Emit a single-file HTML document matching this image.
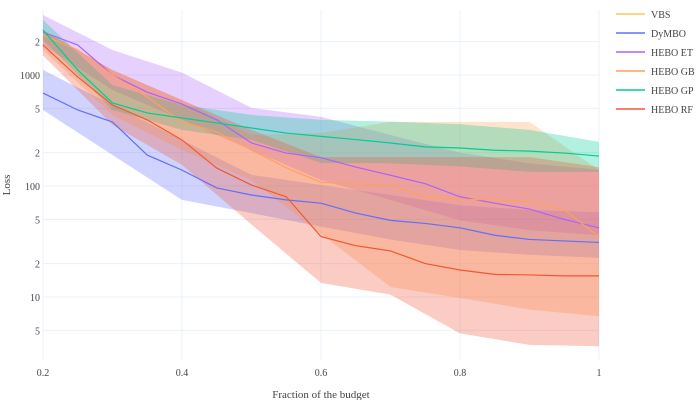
<!DOCTYPE html>
<html><head><meta charset="utf-8"><style>
body{margin:0;background:#fff;font-family:"Liberation Serif",serif;}
svg text{font-family:"Liberation Serif",serif;fill:#444;}
</style></head><body>
<svg id="chart" width="700" height="400" xmlns="http://www.w3.org/2000/svg">
<g id="grid"></g>
<g id="bands"></g>
<g id="lines"></g>
<g id="axes"></g>
<g id="legend"></g>
<text x="321" y="398" font-size="11" text-anchor="middle">Fraction of the budget</text>
<text transform="translate(10,185) rotate(-90)" font-size="11" text-anchor="middle">Loss</text>
</svg>
<script>
const xs = [0.2,0.25,0.3,0.35,0.4,0.45,0.5,0.55,0.6,0.65,0.7,0.75,0.8,0.85,0.9,0.95,1.0];
const bandXs = [0.2,0.3,0.4,0.5,0.6,0.7,0.8,0.9,1.0];
const seriesNames = ["VBS","DyMBO","HEBO ET","HEBO GB","HEBO GP","HEBO RF"];
const vbs    = [1860,960,537,394,260,145,102,80,35,29,26,20,17.5,16,15.8,15.5,15.5];
const dymbo  = [687,484,377,190,139,96,83,75,70,57,49,46,42,36,33,32,31];
const heboEt = [2440,1860,1000,700,547,394,244,198,180,148,125,105,80,70,62,50,42];
const heboGb = [2290,1680,1000,634,378,306,211,146,108,104,102,80,76,75,72,61,35];
const heboGp = [2540,1110,560,455,410,370,333,300,280,262,244,225,220,210,206,198,186];
const heboRf = [1860,960,537,394,260,145,102,80,35,29,26,20,17.5,16,15.8,15.5,15.5];
const dymboUp = [1110,537,260,126,102,83,67,61,58];
const dymboLo = [484,190,75,57,43,33,26.5,24,22.5];
const etUp = [3470,1680,1050,505,420,288,200,160,140];
const etLo = [1860,733,394,211,113,75,49,40,36];
const gbUp = [2540,1110,595,288,300,378,378,378,139];
const gbLo = [1680,437,211,113,37,12.3,9.8,7.7,6.7];
const gpUp = [3130,810,537,437,394,380,360,320,250];
const gpLo = [2070,484,320,260,161,160,150,134,134];
const rfUp = [2540,1110,595,320,182,182,182,182,148];
const rfLo = [1500,355,155,45,13.4,10.5,4.7,3.7,3.6];
const yTickVals = [2000,1000,500,200,100,50,20,10,5];
const yTickLabels = ["2","1000","5","2","100","5","2","10","5"];
const xTickVals = [0.2,0.4,0.6,0.8,1.0];
const xTickLabels = ["0.2","0.4","0.6","0.8","1"];

const colors = ["#FECB52","#636EFA","#AB63FA","#FFA15A","#00CC96","#EF553B"];
const X0=43,X1=599,PT=10,PB=360;
const xs_ = v => X0 + (v-0.2)/0.8*(X1-X0);
const ys_ = v => 75 - (Math.log10(v)-3)*111;
const NS="http://www.w3.org/2000/svg";
function mk(tag,parent){const e=document.createElementNS(NS,tag);parent.appendChild(e);return e;}
const grid=document.getElementById('grid'),axes=document.getElementById('axes');
yTickVals.forEach((v,i)=>{
  const l=mk('line',grid);l.setAttribute('x1',X0);l.setAttribute('x2',X1);l.setAttribute('y1',ys_(v));l.setAttribute('y2',ys_(v));l.setAttribute('stroke','#ebf0f8');
  
  
  const t=mk('text',axes);t.setAttribute('x',X0-3);t.setAttribute('y',ys_(v)+4);t.setAttribute('text-anchor','end');t.setAttribute('font-size','10');t.textContent=yTickLabels[i];
  
  
});
xTickVals.forEach((v,i)=>{
  const l=mk('line',grid);l.setAttribute('x1',xs_(v));l.setAttribute('x2',xs_(v));l.setAttribute('y1',PT);l.setAttribute('y2',PB);l.setAttribute('stroke','#ebf0f8');
  
  
  const t=mk('text',axes);t.setAttribute('x',xs_(v));t.setAttribute('y',376);t.setAttribute('text-anchor','middle');t.setAttribute('font-size','10');t.textContent=xTickLabels[i];
  
  
});
function pts(xa,ya){return xa.map((x,i)=>[xs_(x),ys_(ya[i])]);}
const bandsG=document.getElementById('bands');
const bands=[[dymboUp,dymboLo,1],[etUp,etLo,2],[gbUp,gbLo,3],[gpUp,gpLo,4],[rfUp,rfLo,5]];
bands.forEach(b=>{
  const up=pts(bandXs,b[0]),lo=pts(bandXs,b[1]).reverse();
  const p=mk('polygon',bandsG);p.setAttribute('points',up.concat(lo).map(q=>q.join(',')).join(' '));
  p.setAttribute('fill',colors[b[2]]);p.setAttribute('fill-opacity','0.3');
  
  
});
const linesG=document.getElementById('lines');
[vbs,dymbo,heboEt,heboGb,heboGp,heboRf].forEach((s,i)=>{
  const p=mk('polyline',linesG);p.setAttribute('points',pts(xs,s).map(q=>q.join(',')).join(' '));
  p.setAttribute('fill','none');p.setAttribute('stroke',colors[i]);p.setAttribute('stroke-width','1.2');
  
  
});
const leg=document.getElementById('legend');
seriesNames.forEach((n,i)=>{
  const y=14+i*19;
  const g=mk('g',leg);
  
  
  const l=mk('line',g);l.setAttribute('x1',616);l.setAttribute('x2',645);l.setAttribute('y1',y);l.setAttribute('y2',y);l.setAttribute('stroke',colors[i]);l.setAttribute('stroke-width','1.5');
  const t=mk('text',g);t.setAttribute('x',651);t.setAttribute('y',y+4);t.setAttribute('font-size','10');t.textContent=n;
});
</script>
</body></html>
